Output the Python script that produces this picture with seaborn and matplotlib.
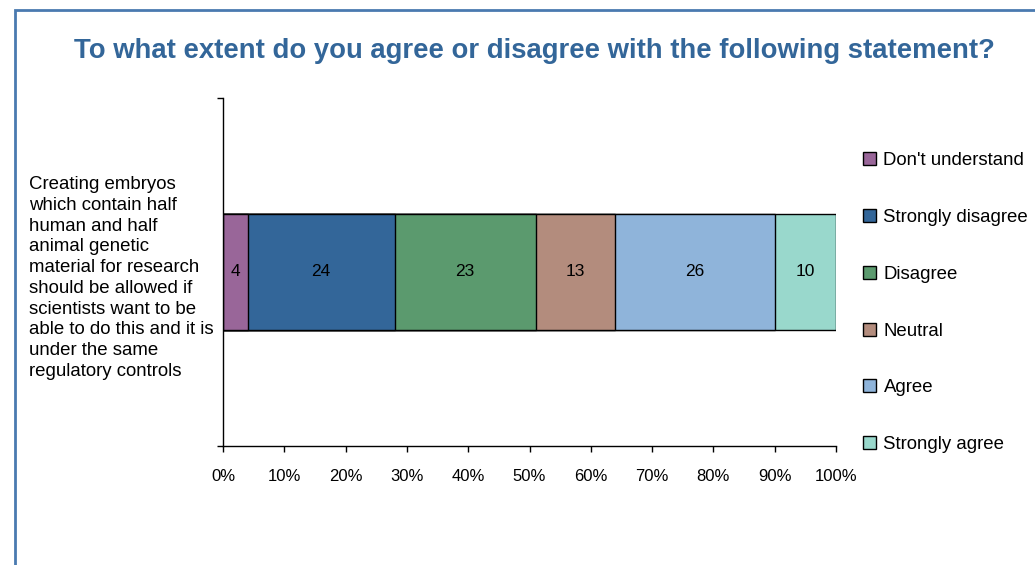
import matplotlib
matplotlib.use("Agg")
import matplotlib.pyplot as plt
from matplotlib.patches import Rectangle, Patch
import seaborn as sns
import pandas as pd
import numpy as np

# Survey responses (percent of respondents)
categories = ["Don't understand", "Strongly disagree", "Disagree",
              "Neutral", "Agree", "Strongly agree"]
values = [4, 24, 23, 13, 26, 10]
colors = ["#996699", "#336699", "#5B9A6E", "#B38C7D", "#8FB4DA", "#99D8CC"]
statement = ("Creating embryos\nwhich contain half\nhuman and half\nanimal genetic\n"
             "material for research\nshould be allowed if\nscientists want to be\n"
             "able to do this and it is\nunder the same\nregulatory controls")
title = "To what extent do you agree or disagree with the following statement?"
xticks = list(range(0, 101, 10))
xtick_labels = [f"{t}%" for t in xticks]

sns.set_theme(style="white")
plt.rcParams["font.family"] = ["Liberation Sans", "DejaVu Sans"]
plt.rcParams["text.color"] = "black"

W, H = 1035, 565
fig = plt.figure(figsize=(W / 100, H / 100), dpi=100)
ax = fig.add_axes([223 / W, 1 - 446 / H, (836 - 223) / W, (446 - 98) / H])

# Outer chart border (runs past the right and bottom edges)
fig.patches.append(Rectangle((15 / W, -0.1), 1.2, 1 - 10 / H + 0.1,
                             transform=fig.transFigure, fill=False,
                             edgecolor="#4A7AB0", linewidth=2, clip_on=False))

# Stacked bar: draw cumulative totals from the longest down so each
# shorter bar covers the start of the previous one
cum = np.cumsum(values)
df = pd.DataFrame({"item": ["s"] * len(values), "total": cum,
                   "response": categories})
for i in range(len(values) - 1, -1, -1):
    sns.barplot(data=df.iloc[[i]], x="total", y="item", orient="h",
                color=colors[i], saturation=1, width=1 / 3,
                edgecolor="black", linewidth=1, ax=ax)

starts = cum - np.array(values)
for s, v in zip(starts, values):
    ax.text(s + v / 2, 0, str(v), ha="center", va="center",
            fontsize=12.5, color="black")

ax.set_xlim(0, 100)
ax.set_ylim(0.5, -0.5)
ax.set_xticks(xticks)
ax.set_xticklabels(xtick_labels, fontsize=12)
ax.set_yticks([-0.5, 0.5])
ax.set_yticklabels([])
ax.set_xlabel("")
ax.set_ylabel("")
ax.tick_params(axis="both", direction="out", length=4.5, width=1,
               color="black", left=True, bottom=True)
ax.tick_params(axis="x", pad=12, labelcolor="black")
for side in ["top", "right"]:
    ax.spines[side].set_visible(False)
for side in ["left", "bottom"]:
    ax.spines[side].set_color("black")
    ax.spines[side].set_linewidth(1)
ax.set_facecolor("white")

fig.text(29 / W, 1 - 176 / H, statement, ha="left", va="top",
         fontsize=13.4, linespacing=1.29, color="black")

fig.text(534 / W, 1 - 51 / H, title, ha="center", va="center",
         fontsize=19.8, fontweight="bold", color="#336699")

handles = [Patch(facecolor=c, edgecolor="black", linewidth=1) for c in colors]
fig.legend(handles, categories, loc="upper left",
           bbox_to_anchor=(863 / W, 1 - 152 / H), frameon=False,
           fontsize=13.4, labelspacing=2.14, handlelength=0.7,
           handleheight=0.7, handletextpad=0.4, borderpad=0,
           borderaxespad=0, labelcolor="black")

fig.savefig("out.png", dpi=100, facecolor="white")
